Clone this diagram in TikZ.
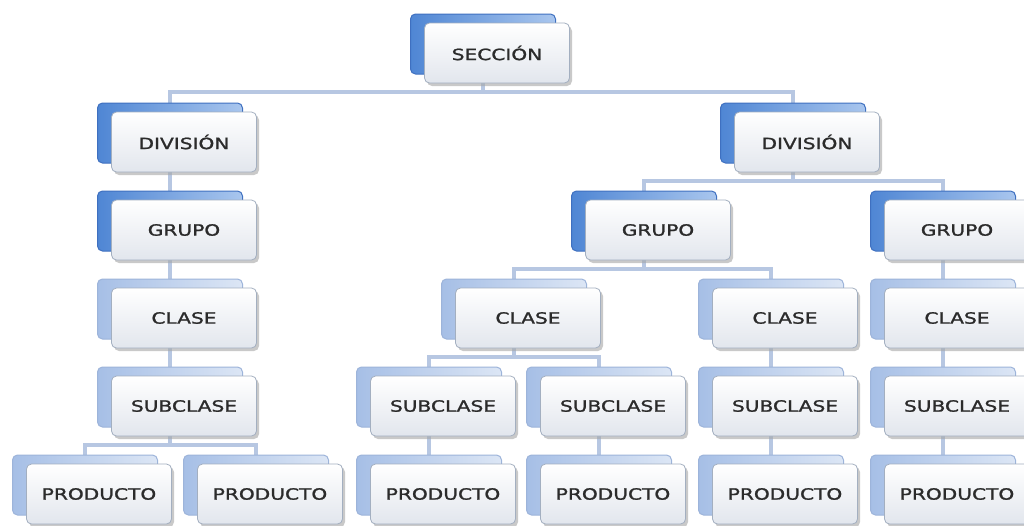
\documentclass[tikz,border=0pt]{standalone}
\usepackage{fontspec}
\newfontfamily\lblfont[FakeStretch=1.3,FakeBold=1.3]{DejaVu Sans}
\usetikzlibrary{shadows,backgrounds}
\definecolor{conncol}{HTML}{B7C7E2}
\definecolor{frontdraw}{HTML}{A3AFC0}
\definecolor{frontbot}{HTML}{E2E6ED}
\definecolor{backdarkL}{HTML}{4F86D4}
\definecolor{backdarkR}{HTML}{A9C6EE}
\definecolor{backdarkD}{HTML}{3F70C0}
\definecolor{backlightL}{HTML}{A6BFE6}
\definecolor{backlightR}{HTML}{DCE6F5}
\definecolor{backlightD}{HTML}{9DB4DA}
\definecolor{txt}{HTML}{2B2B2B}
\tikzset{
  frontbox/.style={rounded corners=5pt, minimum width=145pt, minimum height=60pt,
    inner sep=0pt, draw=frontdraw, line width=0.8pt, top color=white, bottom color=frontbot,
    text=txt, font=\lblfont\fontsize{15.5}{18}\selectfont,
    drop shadow={shadow xshift=2.5pt, shadow yshift=-3pt, fill=black!35, opacity=0.6}},
  backbox/.style={rounded corners=5pt, minimum width=145pt, minimum height=60pt,
    inner sep=0pt, draw=backdarkD, line width=1pt, left color=backdarkL, right color=backdarkR},
  backboxlt/.style={backbox, draw=backlightD, left color=backlightL, right color=backlightR},
  conn/.style={draw=conncol, line width=4.5pt},
}
\newcommand\orgbox[5]{%
  \node[#5] (#1b) at (#2-14,#3-9) {};
  \node[frontbox] (#1) at (#2,#3) {#4};
}
\begin{document}
\begin{tikzpicture}[x=1pt,y=-1pt]
\useasboundingbox (0,0) rectangle (1024,525);
% level 0
\orgbox{sec}{497}{53}{SECCIÓN}{backbox}
% level 1
\orgbox{divL}{184}{142}{DIVISIÓN}{backbox}
\orgbox{divR}{807}{142}{DIVISIÓN}{backbox}
% level 2
\orgbox{grL}{184}{230}{GRUPO}{backbox}
\orgbox{grM}{658}{230}{GRUPO}{backbox}
\orgbox{grR}{957}{230}{GRUPO}{backbox}
% level 3
\orgbox{clL}{184}{318}{CLASE}{backboxlt}
\orgbox{clA}{528}{318}{CLASE}{backboxlt}
\orgbox{clB}{785}{318}{CLASE}{backboxlt}
\orgbox{clR}{957}{318}{CLASE}{backboxlt}
% level 4
\orgbox{suL}{184}{406}{SUBCLASE}{backboxlt}
\orgbox{suA}{443}{406}{SUBCLASE}{backboxlt}
\orgbox{suB}{613}{406}{SUBCLASE}{backboxlt}
\orgbox{suC}{785}{406}{SUBCLASE}{backboxlt}
\orgbox{suR}{957}{406}{SUBCLASE}{backboxlt}
% level 5
\orgbox{prA}{99}{494}{PRODUCTO}{backboxlt}
\orgbox{prB}{270}{494}{PRODUCTO}{backboxlt}
\orgbox{prC}{443}{494}{PRODUCTO}{backboxlt}
\orgbox{prD}{613}{494}{PRODUCTO}{backboxlt}
\orgbox{prE}{785}{494}{PRODUCTO}{backboxlt}
\orgbox{prF}{957}{494}{PRODUCTO}{backboxlt}
\begin{scope}[on background layer]
\fill[white] (0,0) rectangle (1024,525);
\draw[conn] (secb.center) -- ++(0,48) -| (divLb.center);
\draw[conn] (secb.center) -- ++(0,48) -| (divRb.center);
\draw[conn] (divLb.center) -- (grLb.center);
\draw[conn] (divRb.center) -- ++(0,48) -| (grMb.center);
\draw[conn] (divRb.center) -- ++(0,48) -| (grRb.center);
\draw[conn] (grLb.center) -- (clLb.center);
\draw[conn] (grMb.center) -- ++(0,48) -| (clAb.center);
\draw[conn] (grMb.center) -- ++(0,48) -| (clBb.center);
\draw[conn] (grRb.center) -- (clRb.center);
\draw[conn] (clLb.center) -- (suLb.center);
\draw[conn] (clAb.center) -- ++(0,48) -| (suAb.center);
\draw[conn] (clAb.center) -- ++(0,48) -| (suBb.center);
\draw[conn] (clBb.center) -- (suCb.center);
\draw[conn] (clRb.center) -- (suRb.center);
\draw[conn] (suLb.center) -- ++(0,48) -| (prAb.center);
\draw[conn] (suLb.center) -- ++(0,48) -| (prBb.center);
\draw[conn] (suAb.center) -- (prCb.center);
\draw[conn] (suBb.center) -- (prDb.center);
\draw[conn] (suCb.center) -- (prEb.center);
\draw[conn] (suRb.center) -- (prFb.center);
\end{scope}
\end{tikzpicture}
\end{document}
